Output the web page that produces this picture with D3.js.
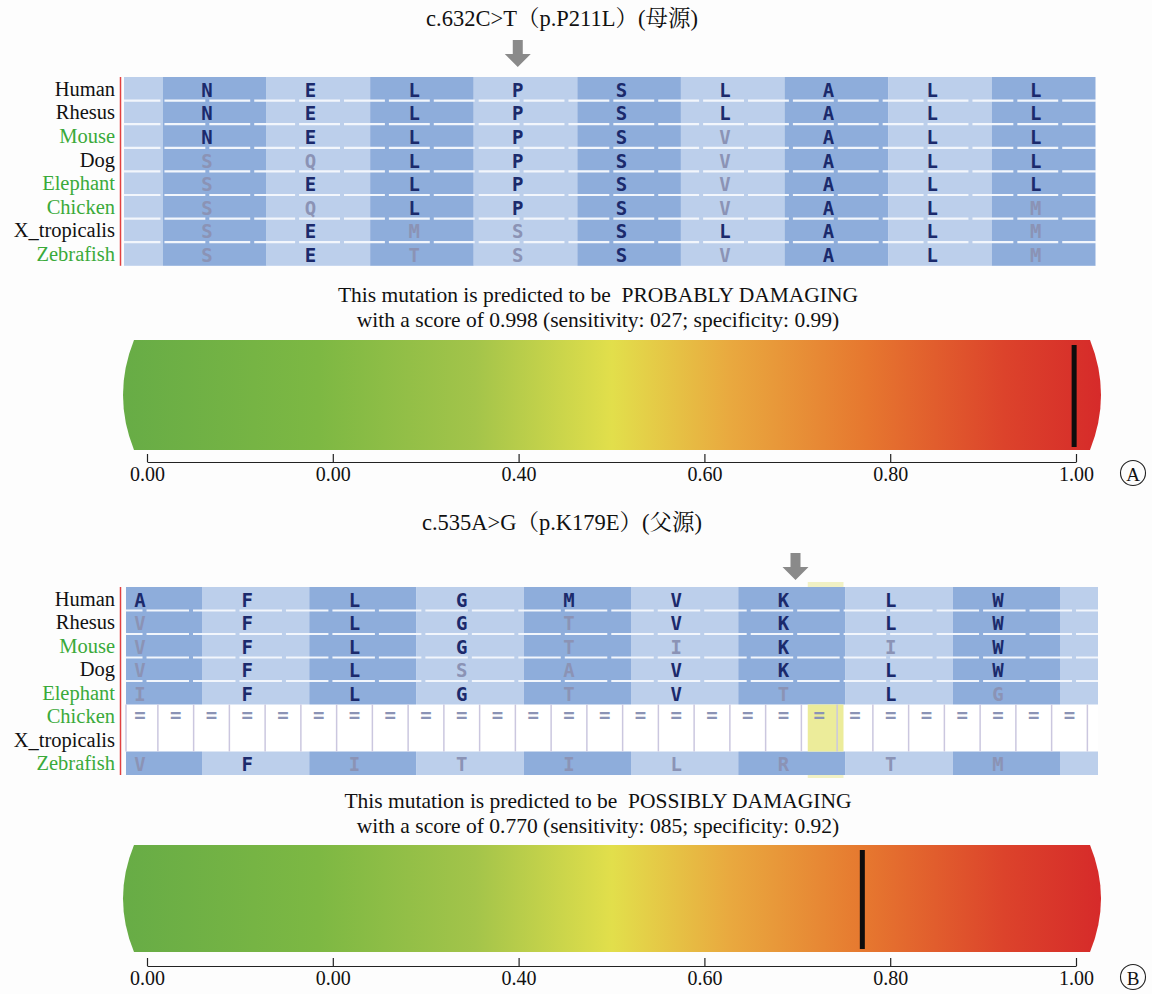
<!DOCTYPE html>
<html><head><meta charset="utf-8">
<script src="https://cdn.jsdelivr.net/npm/d3@7"></script>
<style>body{margin:0;background:#fff;} svg{display:block} text{white-space:pre}</style>
</head><body><svg id="chart" width="1152" height="994"></svg>
<script>
// ---------------- data ----------------
const species = ["Human","Rhesus","Mouse","Dog","Elephant","Chicken","X_tropicalis","Zebrafish"];
const greenSpecies = ["Mouse","Elephant","Chicken","Zebrafish"];

const titleA = "c.632C>T（p.P211L）(母源)";
const residuesA = [
  ["N","E","L","P","S","L","A","L","L"],
  ["N","E","L","P","S","L","A","L","L"],
  ["N","E","L","P","S","V","A","L","L"],
  ["S","Q","L","P","S","V","A","L","L"],
  ["S","E","L","P","S","V","A","L","L"],
  ["S","Q","L","P","S","V","A","L","M"],
  ["S","E","M","S","S","L","A","L","M"],
  ["S","E","T","S","S","V","A","L","M"]
];
const mutColA = 3;
const predictionA = ["This mutation is predicted to be  PROBABLY DAMAGING",
                     "with a score of 0.998 (sensitivity: 027; specificity: 0.99)"];
const scoreA = 0.998;

const titleB = "c.535A>G（p.K179E）(父源)";
const residuesB = [
  ["A","F","L","G","M","V","K","L","W"],
  ["V","F","L","G","T","V","K","L","W"],
  ["V","F","L","G","T","I","K","I","W"],
  ["V","F","L","S","A","V","K","L","W"],
  ["I","F","L","G","T","V","T","L","G"],
  null,
  null,
  ["V","F","I","T","I","L","R","T","M"]
];
const gapSymbolB = {"Chicken":"=","X_tropicalis":""};
const mutColB = 6;
const highlightCellB = 19;
const predictionB = ["This mutation is predicted to be  POSSIBLY DAMAGING",
                     "with a score of 0.770 (sensitivity: 085; specificity: 0.92)"];
const scoreB = 0.770;

const tickValues = [0, 0.2, 0.4, 0.6, 0.8, 1.0];
const tickLabels = ["0.00","0.00","0.40","0.60","0.80","1.00"];
const panelLetters = ["A","B"];

const gradStops = [
  [0.00,"#67ac46"],[0.20,"#7db843"],[0.36,"#a3c44a"],[0.50,"#e2df4b"],
  [0.62,"#e9a93f"],[0.76,"#e6772f"],[0.90,"#dc432b"],[1.00,"#d62a2a"]
];

// ---------------- drawing ----------------
const svg = d3.select("#chart");
const serif = "'Liberation Serif','Times New Roman','Noto Serif CJK SC','Noto Sans CJK SC',serif";
const mono = "'DejaVu Sans Mono','Liberation Mono',monospace";
const darkBand = "#8eaddb", lightBand = "#bccfeb";
const darkLetter = "#1b2a6c", grayLetter = "#8b93b5", green = "#3aaa3a";

svg.append("rect").attr("width",1152).attr("height",994).attr("fill","#fdfdfd");

const defs = svg.append("defs");
const grad = defs.append("linearGradient").attr("id","scoreGrad")
  .attr("gradientUnits","userSpaceOnUse").attr("x1",122).attr("x2",1102).attr("y1",0).attr("y2",0);
grad.selectAll("stop").data(gradStops).join("stop")
  .attr("offset",d=>d[0]).attr("stop-color",d=>d[1]);

function drawPanel(cfg){
  const g = svg.append("g");
  const nCells = cfg.nCells;
  const xc = d3.scaleLinear().domain([0,nCells]).range([cfg.x0, cfg.x0 + cfg.cw*nCells]);
  const y = d3.scaleBand().domain(species).range([cfg.top, cfg.top + cfg.rowH*species.length]);
  const glyphX = c => xc(c) + 9.5;
  const L = cfg.gridL, R = cfg.gridR;

  // title
  g.append("text").attr("x",562).attr("y",cfg.titleY).attr("text-anchor","middle")
    .attr("dominant-baseline","central").attr("font-family",serif).attr("font-size",22.5)
    .attr("fill","#111").text(cfg.title);

  // yellow highlight strip (behind)
  if(cfg.hlCell!=null){
    g.append("rect").attr("x",xc(cfg.hlCell)-2).attr("width",cfg.cw)
      .attr("y",cfg.top-5).attr("height",y.range()[1]-cfg.top+8).attr("fill","#f1f1c4");
  }

  // column bands
  const bands = d3.range(-1, 10);
  g.append("g").selectAll("rect").data(bands).join("rect")
    .attr("x",k=>Math.max(L, xc(3*k-1)))
    .attr("width",k=>Math.max(0, Math.min(R, xc(3*k+2)) - Math.max(L, xc(3*k-1))))
    .attr("y",cfg.top).attr("height",y.range()[1]-cfg.top)
    .attr("fill",k=> k%2===0 ? darkBand : lightBand);

  // gap rows (white block)
  const gapRows = species.filter((s,i)=>cfg.res[i]===null);
  if(gapRows.length){
    const gy0 = y(gapRows[0]), gy1 = y(gapRows[gapRows.length-1]) + y.bandwidth();
    g.append("rect").attr("x",L).attr("width",R-L).attr("y",gy0).attr("height",gy1-gy0).attr("fill","#ffffff");
    g.append("rect").attr("x",xc(cfg.hlCell)-2).attr("width",cfg.cw).attr("y",gy0).attr("height",gy1-gy0)
      .attr("fill","#ecec9a");
    g.append("g").selectAll("line").data(d3.range(0,nCells)).join("line")
      .attr("x1",c=>glyphX(c)+cfg.cw/2).attr("x2",c=>glyphX(c)+cfg.cw/2)
      .attr("y1",gy0).attr("y2",gy1).attr("stroke","#cbc7df").attr("stroke-width",1.5);
    g.append("line").attr("x1",L).attr("x2",L).attr("y1",gy0).attr("y2",gy1).attr("stroke","#cbc7df").attr("stroke-width",1.5);
    gapRows.forEach(s=>{
      const sym = cfg.gaps[s];
      if(!sym) return;
      g.append("g").selectAll("text").data(d3.range(0,nCells)).join("text")
        .attr("x",c=>glyphX(c)).attr("y",y(s)+y.bandwidth()/2-1)
        .attr("text-anchor","middle").attr("dominant-baseline","central")
        .attr("font-family",mono).attr("font-weight","bold").attr("font-size",19)
        .attr("fill",grayLetter).text(sym);
    });
  }

  // white dashed separators between consecutive residue rows
  const seps = d3.range(1, species.length).filter(i=>cfg.res[i]!==null && cfg.res[i-1]!==null);
  g.append("g").selectAll("line").data(seps).join("line")
    .attr("x1",L).attr("x2",R).attr("y1",i=>y(species[i])).attr("y2",i=>y(species[i]))
    .attr("stroke","#f2f6fc").attr("stroke-width",2.2)
    .attr("stroke-dasharray",`${cfg.cw*1.3-4},4`).attr("stroke-dashoffset",-(L-xc(-2)));

  // residues
  cfg.res.forEach((row,i)=>{
    if(!row) return;
    g.append("g").selectAll("text").data(row).join("text")
      .attr("x",(d,j)=>glyphX(3*j)).attr("y",y(species[i])+y.bandwidth()/2+1)
      .attr("text-anchor","middle").attr("dominant-baseline","central")
      .attr("font-family",mono).attr("font-weight","bold").attr("font-size",19)
      .attr("fill",(d,j)=> d===cfg.res[0][j] ? darkLetter : grayLetter).text(d=>d);
  });

  // species labels + red line
  g.append("g").selectAll("text").data(species).join("text")
    .attr("x",115).attr("y",s=>y(s)+y.bandwidth()/2)
    .attr("text-anchor","end").attr("dominant-baseline","central")
    .attr("font-family",serif).attr("font-size",20.5)
    .attr("fill",s=>greenSpecies.includes(s)?green:"#111").text(s=>s);
  g.append("line").attr("x1",120.5).attr("x2",120.5).attr("y1",cfg.top).attr("y2",y.range()[1])
    .attr("stroke","#e04040").attr("stroke-width",1.5);

  // arrow
  const ax = glyphX(3*cfg.mutCol) + cfg.arrowDx, ay = cfg.arrowY;
  g.append("path").attr("d",`M${ax-5},${ay} H${ax+5} V${ay+14} H${ax+13} L${ax},${ay+27} L${ax-13},${ay+14} H${ax-5} Z`)
    .attr("fill","#8a8a8a");

  // prediction text
  cfg.pred.forEach((t,i)=>{
    g.append("text").attr("x",598).attr("y",cfg.predY + i*24.5).attr("text-anchor","middle")
      .attr("dominant-baseline","central").attr("font-family",serif).attr("font-size",21.5)
      .attr("fill","#111").text(t);
  });

  // gradient bar
  const b0 = cfg.barY0, b1 = cfg.barY1, bm = (b0+b1)/2;
  g.append("path").attr("d",`M134,${b0} H1090 Q1112,${bm} 1090,${b1} H134 Q112,${bm} 134,${b0} Z`)
    .attr("fill","url(#scoreGrad)");
  const xs = d3.scaleLinear().domain([0,1]).range([147,1076]);
  g.append("rect").attr("x",xs(cfg.score)-2.5).attr("width",5)
    .attr("y",b0+5).attr("height",b1-b0-8).attr("fill","#0d0d0d");

  // axis
  const axis = d3.axisBottom(xs).tickValues(tickValues).tickFormat((d,i)=>tickLabels[i])
    .tickSize(-8).tickSizeOuter(0).tickPadding(5);
  const ag = g.append("g").attr("transform",`translate(0,${cfg.axisY})`).call(axis);
  ag.select(".domain").attr("stroke","#222").attr("stroke-width",1.2);
  ag.selectAll(".tick line").attr("stroke","#222").attr("stroke-width",1.2);
  ag.selectAll(".tick text").attr("font-family",serif).attr("font-size",20).attr("fill","#111");

  // circled letter
  g.append("circle").attr("cx",1133).attr("cy",cfg.axisY+11).attr("r",12.5)
    .attr("fill","none").attr("stroke","#222").attr("stroke-width",1.1);
  g.append("text").attr("x",1133).attr("y",cfg.axisY+12).attr("text-anchor","middle")
    .attr("dominant-baseline","central").attr("font-family",serif).attr("font-size",19)
    .attr("fill","#111").text(cfg.letter);
}

drawPanel({
  title:titleA, titleY:18, res:residuesA, gaps:{}, mutCol:mutColA, hlCell:null,
  nCells:26, x0:197.5, cw:34.53, gridL:124, gridR:1096, top:77, rowH:23.6,
  arrowY:40, arrowDx:0, pred:predictionA, predY:295, score:scoreA,
  barY0:340, barY1:450, axisY:462, letter:panelLetters[0]
});
drawPanel({
  title:titleB, titleY:522, res:residuesB, gaps:gapSymbolB, mutCol:mutColB, hlCell:highlightCellB,
  nCells:27, x0:130.5, cw:35.75, gridL:126, gridR:1098, top:587, rowH:23.5,
  arrowY:553, arrowDx:12, pred:predictionB, predY:801, score:scoreB,
  barY0:845, barY1:952, axisY:966, letter:panelLetters[1]
});
</script></body></html>
